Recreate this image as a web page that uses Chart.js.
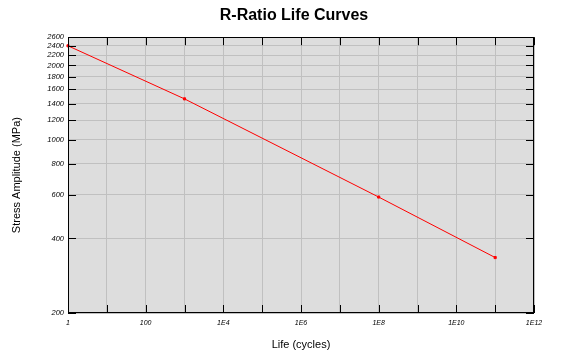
<!DOCTYPE html>
<html>
<head>
<meta charset="utf-8">
<script src="https://cdn.jsdelivr.net/npm/chart.js@4"></script>
<style>
  html, body { margin: 0; padding: 0; background: #fff; }
</style>
</head>
<body>
<canvas id="lifeChart" width="580" height="360"></canvas>
<script>
// data
const lifeCycles = [1, 1000, 1e8, 1e11];
const stressAmp = [2400, 1465, 588, 335];

// axis ticks
const xTickValues = [1, 10, 100, 1e3, 1e4, 1e5, 1e6, 1e7, 1e8, 1e9, 1e10, 1e11, 1e12];
const xTickLabels = ['1', '', '100', '', '1E4', '', '1E6', '', '1E8', '', '1E10', '', '1E12'];
const yTickValues = [200, 400, 600, 800, 1000, 1200, 1400, 1600, 1800, 2000, 2200, 2400, 2600];

const FONT = '"Liberation Sans", Arial, sans-serif';

// grey plot background, black frame and inward tick marks on all four sides
const plotFrame = {
    id: 'plotFrame',
    beforeDraw(chart) {
        const { ctx, chartArea: a } = chart;
        ctx.save();
        ctx.fillStyle = '#dddddd';
        ctx.fillRect(a.left, a.top, a.right - a.left, a.bottom - a.top);
        ctx.restore();
    },
    afterDatasetsDraw(chart) {
        const { ctx, chartArea: a, scales } = chart;
        const len = 8;
        ctx.save();
        ctx.strokeStyle = '#000';
        ctx.lineWidth = 1;
        ctx.beginPath();
        scales.x.ticks.forEach(t => {
            const px = Math.round(scales.x.getPixelForValue(t.value)) + 0.5;
            ctx.moveTo(px, a.bottom);
            ctx.lineTo(px, a.bottom - len);
            ctx.moveTo(px, a.top);
            ctx.lineTo(px, a.top + len);
        });
        scales.y.ticks.forEach(t => {
            const py = Math.round(scales.y.getPixelForValue(t.value)) + 0.5;
            ctx.moveTo(a.left, py);
            ctx.lineTo(a.left + len, py);
            ctx.moveTo(a.right, py);
            ctx.lineTo(a.right - len, py);
        });
        ctx.stroke();
        ctx.strokeRect(Math.round(a.left) + 0.5, Math.round(a.top) + 0.5,
            Math.round(a.right - a.left) - 1, Math.round(a.bottom - a.top) - 1);
        ctx.restore();
    }
};

const ctx = document.getElementById('lifeChart').getContext('2d');

new Chart(ctx, {
    type: 'scatter',
    data: {
        datasets: [{
            label: 'R-Ratio',
            data: lifeCycles.map((n, i) => ({ x: n, y: stressAmp[i] })),
            showLine: true,
            borderColor: '#ff0000',
            backgroundColor: '#ff0000',
            borderWidth: 1,
            pointStyle: 'rect',
            pointRadius: 1.5,
            clip: 4
        }]
    },
    options: {
        responsive: false,
        animation: false,
        layout: { padding: { left: 8 } },
        plugins: {
            legend: { display: false },
            tooltip: { enabled: false },
            title: {
                display: true,
                text: 'R-Ratio Life Curves',
                color: '#000',
                font: { family: FONT, size: 16, weight: 'bold' },
                padding: { top: 6, bottom: 12 }
            }
        },
        scales: {
            x: {
                type: 'logarithmic',
                min: 1,
                max: 1e12,
                afterBuildTicks: s => { s.ticks = xTickValues.map(v => ({ value: v })); },
                afterFit: s => { s.height = 47; },
                ticks: {
                    autoSkip: false,
                    maxRotation: 0,
                    padding: 6,
                    color: '#000',
                    font: { family: FONT, size: 7, style: 'italic' },
                    callback: (v, i) => xTickLabels[i]
                },
                grid: { color: '#c0c0c0', drawTicks: false },
                border: { display: false },
                title: {
                    display: true,
                    text: 'Life (cycles)',
                    color: '#000',
                    font: { family: FONT, size: 11 },
                    padding: { top: 0, bottom: 8 }
                }
            },
            y: {
                type: 'logarithmic',
                min: 200,
                max: 2600,
                afterBuildTicks: s => { s.ticks = yTickValues.map(v => ({ value: v })); },
                afterFit: s => { s.width = 60; },
                ticks: {
                    autoSkip: false,
                    padding: 4,
                    color: '#000',
                    font: { family: FONT, size: 7.5, style: 'italic' },
                    callback: v => String(v)
                },
                grid: { color: '#c0c0c0', drawTicks: false },
                border: { display: false },
                title: {
                    display: true,
                    text: 'Stress Amplitude (MPa)',
                    color: '#000',
                    font: { family: FONT, size: 11 },
                    padding: { top: 2, bottom: 0 }
                }
            },
            yRight: {
                type: 'linear',
                position: 'right',
                display: true,
                afterFit: s => { s.width = 46; },
                ticks: { display: false },
                grid: { display: false },
                border: { display: false }
            }
        }
    },
    plugins: [plotFrame]
});
</script>
</body>
</html>
